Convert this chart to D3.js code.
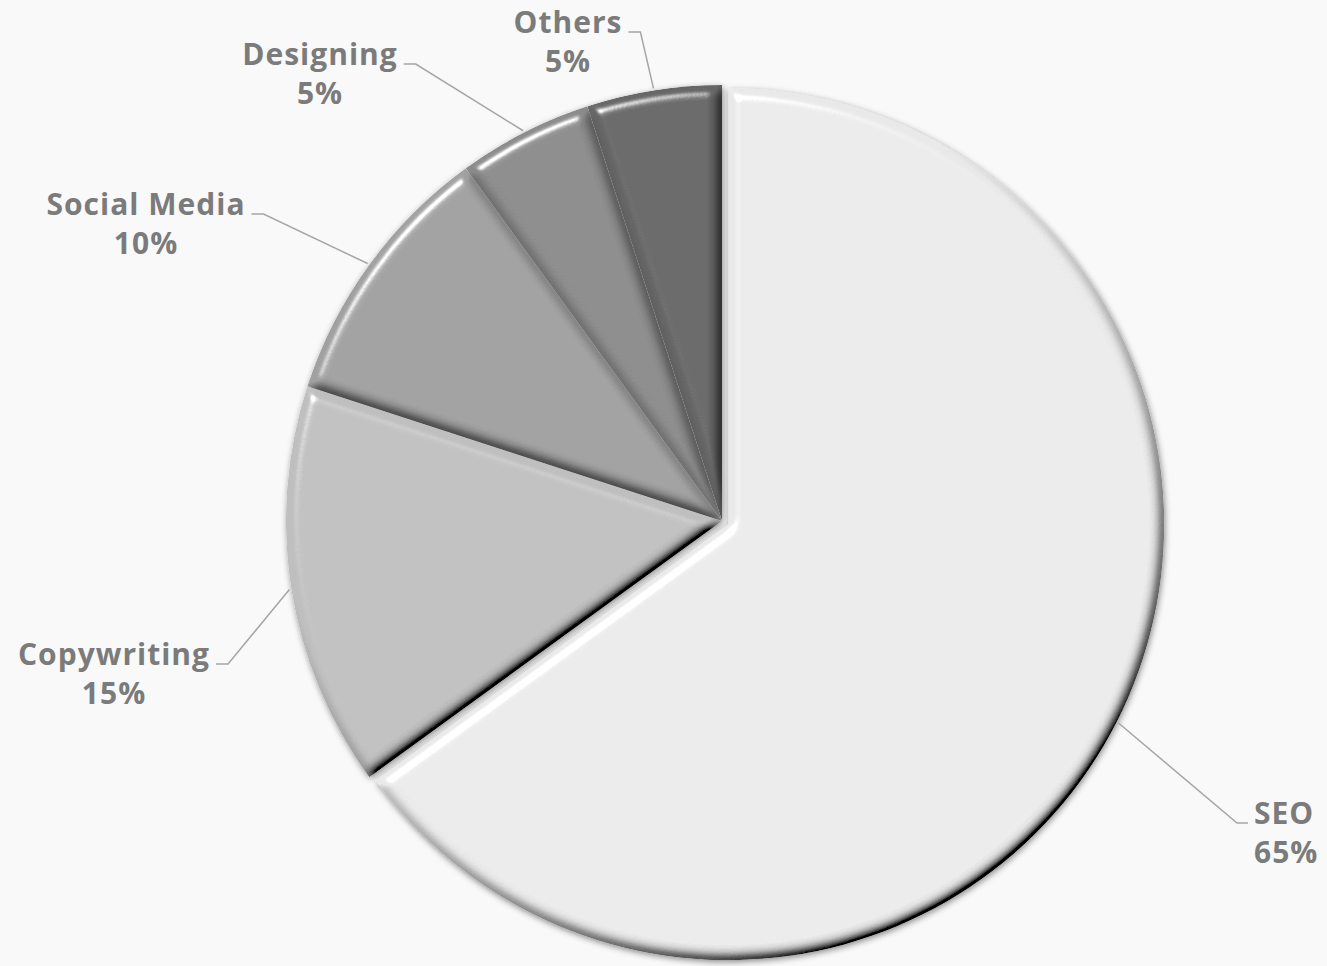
<html><head>
<script src="https://d3js.org/d3.v7.min.js"></script>
<style>
  body { margin: 0; background: #f9f9f9; }
</style>
</head>
<body>
<div id="chart"></div>
<script>
    // data
    const categories = ["SEO", "Copywriting", "Social Media", "Designing", "Others"];
    const shares = [65, 15, 10, 5, 5];
    const sliceColors = ["#e9e9e9", "#bfbfbf", "#a0a0a0", "#8a8a8a", "#666666"];
    const explode = [7, 0, 0, 0, 0];

    // label placement: baseline of first line, and text anchor
    const labelSpots = [
        {x: 1254, y: 824, anchor: "start"},
        {x: 114, y: 665, anchor: "middle"},
        {x: 146, y: 215, anchor: "middle"},
        {x: 320, y: 65, anchor: "middle"},
        {x: 568, y: 33, anchor: "middle"}
    ];

    const svgWidth = 1327;
    const svgHeight = 966;
    const cx = 722, cy = 521;
    const radius = 436;
    const lineGap = 39;

    const svg = d3.select("#chart").append("svg")
        .attr("width", svgWidth)
        .attr("height", svgHeight);

    svg.append("rect").attr("width", svgWidth).attr("height", svgHeight).attr("fill", "#f9f9f9");

    const defs = svg.append("defs");

    // bevel look, light from top-left
    const bevel = defs.append("filter").attr("id", "bevel")
        .attr("x", "-10%").attr("y", "-10%").attr("width", "120%").attr("height", "120%");
    bevel.append("feGaussianBlur").attr("in", "SourceAlpha").attr("stdDeviation", 6).attr("result", "blur");
    const diff = bevel.append("feDiffuseLighting").attr("in", "blur").attr("surfaceScale", 8)
        .attr("diffuseConstant", 1.414).attr("lighting-color", "#fff").attr("result", "diff");
    diff.append("feDistantLight").attr("azimuth", 235).attr("elevation", 45);
    bevel.append("feComposite").attr("in", "SourceGraphic").attr("in2", "diff")
        .attr("operator", "arithmetic").attr("k1", 1).attr("k2", 0).attr("k3", 0).attr("k4", 0)
        .attr("result", "shaded");
    const spec = bevel.append("feSpecularLighting").attr("in", "blur").attr("surfaceScale", 8)
        .attr("specularConstant", 1).attr("specularExponent", 50).attr("lighting-color", "#fff")
        .attr("result", "spec");
    spec.append("feDistantLight").attr("azimuth", 235).attr("elevation", 45);
    bevel.append("feComposite").attr("in", "spec").attr("in2", "SourceAlpha")
        .attr("operator", "in").attr("result", "specIn");
    bevel.append("feComposite").attr("in", "shaded").attr("in2", "specIn")
        .attr("operator", "arithmetic").attr("k1", 0).attr("k2", 1).attr("k3", 0.9).attr("k4", 0)
        .attr("result", "lit");
    bevel.append("feComposite").attr("in", "lit").attr("in2", "SourceAlpha").attr("operator", "in");

    // soft shadow around the pie
    const shadow = defs.append("filter").attr("id", "shadow")
        .attr("x", "-5%").attr("y", "-5%").attr("width", "110%").attr("height", "110%");
    shadow.append("feDropShadow").attr("dx", 1).attr("dy", 2).attr("stdDeviation", 3)
        .attr("flood-color", "#000").attr("flood-opacity", 0.45);

    const data = categories.map((c, i) => ({name: c, value: shares[i], color: sliceColors[i], off: explode[i], spot: labelSpots[i]}));

    const pie = d3.pie().sort(null).value(d => d.value);
    const arcs = pie(data);
    const arc = d3.arc().innerRadius(0).outerRadius(radius);

    const g = svg.append("g").attr("transform", "translate(" + cx + "," + cy + ")")
        .attr("filter", "url(#shadow)");

    function shift(d) {
        const mid = (d.startAngle + d.endAngle) / 2;
        return [Math.sin(mid) * d.data.off, -Math.cos(mid) * d.data.off];
    }

    g.selectAll("path.slice")
        .data(arcs)
        .enter().append("path")
        .attr("class", "slice")
        .attr("d", arc)
        .attr("fill", d => d.data.color)
        .attr("filter", "url(#bevel)")
        .attr("transform", d => "translate(" + shift(d) + ")");

    // labels
    const labels = svg.append("g").attr("id", "labels");
    arcs.forEach(d => {
        const s = d.data.spot;
        const t = labels.append("text")
            .attr("x", s.x).attr("y", s.y)
            .attr("text-anchor", s.anchor)
            .style("font-family", "'Open Sans', sans-serif")
            .style("font-weight", 700)
            .style("font-size", "30px")
            .style("letter-spacing", "1px")
            .attr("fill", "#7b7b7b");
        t.append("tspan").attr("x", s.x).text(d.data.name);
        t.append("tspan").attr("x", s.x).attr("dy", lineGap).text(d.data.value + "%");

        const first = t.select("tspan").node();
        const box = first.getBBox();
        const mid = (d.startAngle + d.endAngle) / 2;
        const off = shift(d);
        const px = cx + off[0] + Math.sin(mid) * (radius + 2);
        const py = cy + off[1] - Math.cos(mid) * (radius + 2);
        const sy = s.y - 1;
        let pts;
        if (s.anchor === "start") {
            const ex = box.x - 6;
            pts = [[px, py], [ex - 11, sy], [ex, sy]];
        } else {
            const ex = box.x + box.width + 6;
            pts = [[px, py], [ex + 12, sy], [ex, sy]];
        }
        labels.append("path")
            .attr("d", d3.line()(pts))
            .attr("fill", "none")
            .attr("stroke", "#a6a6a6")
            .attr("stroke-width", 1.5);
    });
</script>
</body></html>
